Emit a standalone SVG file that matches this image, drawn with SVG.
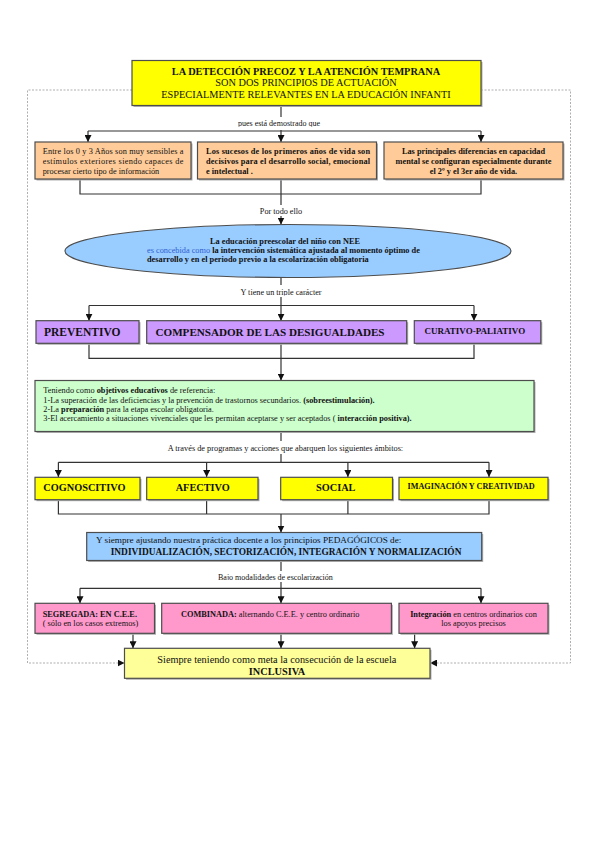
<svg xmlns="http://www.w3.org/2000/svg" width="599" height="848" viewBox="0 0 599 848">
<style>
text{font-family:"Liberation Serif","Times New Roman",serif;fill:#111}
.b{font-weight:bold}
.s83{font-size:8.3px}
.box{stroke:#4d4d4d;stroke-width:1.2}
.sh{fill:#b0b0b0}
.conn{fill:none;stroke:#333;stroke-width:1.2}
.frame{fill:none;stroke:#9a9a9a;stroke-width:0.8;stroke-dasharray:2 1.5}
.blue{fill:#2f5fd0}
</style>
<defs>
<marker id="ah" viewBox="0 0 10 10" refX="10" refY="5" markerWidth="7" markerHeight="7" markerUnits="userSpaceOnUse" orient="auto"><path d="M0,0 L10,5 L0,10 z" fill="#111"/></marker>
<clipPath id="c1"><rect x="200" y="110" width="160" height="16.8"/></clipPath>
<clipPath id="c2"><rect x="200" y="280" width="160" height="15.6"/></clipPath>
<clipPath id="c3"><rect x="200" y="565" width="160" height="15"/></clipPath>
</defs>
<rect width="599" height="848" fill="#fff"/>

<g id="frame">
<path class="frame" d="M132,90 H27.5 V663 H124.5" marker-end="url(#ah)"/>
<path class="frame" d="M481,90 H570.5 V663 H430" marker-end="url(#ah)"/>
</g>

<g id="connectors">
<path class="conn" d="M281,105.5 V117"/>
<path class="conn" d="M88,131 H481"/>
<path class="conn" d="M88,131 V142" marker-end="url(#ah)"/>
<path class="conn" d="M281,130 V142" marker-end="url(#ah)"/>
<path class="conn" d="M481,131 V142" marker-end="url(#ah)"/>
<path class="conn" d="M80,179 V194 H481 V179"/>
<path class="conn" d="M281,179 V205"/>
<path class="conn" d="M281,216 V224.5" marker-end="url(#ah)"/>
<path class="conn" d="M281,277.5 V285"/>
<path class="conn" d="M281,297 V320.7" marker-end="url(#ah)"/>
<path class="conn" d="M89,305.5 H474"/>
<path class="conn" d="M89,305.5 V320.7" marker-end="url(#ah)"/>
<path class="conn" d="M474,305.5 V320.7" marker-end="url(#ah)"/>
<path class="conn" d="M89,343.3 V358.3 H474 V343.3"/>
<path class="conn" d="M281,343.3 V380.5" marker-end="url(#ah)"/>
<path class="conn" d="M281,431.5 V441"/>
<path class="conn" d="M281,454 V462.3"/>
<path class="conn" d="M58.4,462.3 H489"/>
<path class="conn" d="M58.4,462.3 V477" marker-end="url(#ah)"/>
<path class="conn" d="M206.6,462.3 V477" marker-end="url(#ah)"/>
<path class="conn" d="M347.9,462.3 V477" marker-end="url(#ah)"/>
<path class="conn" d="M489,462.3 V477" marker-end="url(#ah)"/>
<path class="conn" d="M58.4,499.7 V514 H489 V499.7"/>
<path class="conn" d="M206.6,499.7 V514"/>
<path class="conn" d="M347.9,499.7 V514"/>
<path class="conn" d="M281,514 V532.5" marker-end="url(#ah)"/>
<path class="conn" d="M281,561 V571"/>
<path class="conn" d="M281,582 V588.3"/>
<path class="conn" d="M80,588.3 H481"/>
<path class="conn" d="M80,588.3 V603.3" marker-end="url(#ah)"/>
<path class="conn" d="M281,588.3 V603.3" marker-end="url(#ah)"/>
<path class="conn" d="M481,588.3 V603.3" marker-end="url(#ah)"/>
<path class="conn" d="M133,633.3 V648.3" marker-end="url(#ah)"/>
<path class="conn" d="M281,633.3 V648.3" marker-end="url(#ah)"/>
<path class="conn" d="M414.6,633.3 V648.3" marker-end="url(#ah)"/>
</g>

<g id="edge-labels">
<text x="279" y="126.3" font-size="8" text-anchor="middle" clip-path="url(#c1)">pues está demostrado que</text>
<text x="281" y="213.5" font-size="8.2" text-anchor="middle">Por  todo ello</text>
<text x="281" y="295" font-size="8.2" text-anchor="middle" clip-path="url(#c2)">Y tiene un triple carácter</text>
<text x="167.7" y="450.6" class="s83">A través de programas y acciones que abarquen los siguientes ámbitos:</text>
<text x="218" y="579.6" font-size="8" clip-path="url(#c3)">Bajo modalidades de escolarización</text>
</g>

<g id="title">
<rect class="sh" x="133.5" y="62" width="349" height="45"/>
<rect class="box" x="132" y="60.5" width="349" height="45" fill="#ffff00"/>
<text x="306" y="74.5" font-size="10.3" class="b" text-anchor="middle">LA DETECCIÓN PRECOZ Y LA ATENCIÓN TEMPRANA</text>
<text x="306" y="86" font-size="10.3" text-anchor="middle">SON DOS PRINCIPIOS DE ACTUACIÓN</text>
<text x="306" y="97.5" font-size="10.3" text-anchor="middle">ESPECIALMENTE RELEVANTES EN LA EDUCACIÓN INFANTI</text>
</g>

<g id="orange-1">
<rect class="sh" x="36.5" y="143.5" width="156" height="37"/>
<rect class="box" x="35" y="142" width="156" height="37" fill="#ffcc99"/>
<text x="42.7" y="153.8" class="s83" textLength="140.8" lengthAdjust="spacing">Entre los 0 y 3 Años  son muy sensibles a</text>
<text x="42.7" y="163.8" class="s83" textLength="140.8" lengthAdjust="spacing">estímulos exteriores siendo capaces de</text>
<text x="42.7" y="173.8" class="s83">procesar cierto tipo de información</text>
</g>

<g id="orange-2">
<rect class="sh" x="199" y="143.5" width="179" height="37"/>
<rect class="box" x="197.5" y="142" width="179" height="37" fill="#ffcc99"/>
<text x="206" y="153.8" class="s83 b" textLength="164" lengthAdjust="spacing">Los sucesos de los primeros años de vida son</text>
<text x="206" y="163.8" class="s83 b" textLength="164" lengthAdjust="spacing">decisivos para el desarrollo social, emocional</text>
<text x="206" y="173.8" class="s83 b">e intelectual .</text>
</g>

<g id="orange-3">
<rect class="sh" x="385.5" y="143.5" width="179" height="37"/>
<rect class="box" x="384" y="142" width="179" height="37" fill="#ffcc99"/>
<text x="473.5" y="153.8" class="s83 b" text-anchor="middle">Las principales diferencias en capacidad</text>
<text x="473.5" y="163.8" class="s83 b" text-anchor="middle">mental se configuran especialmente durante</text>
<text x="473.5" y="173.8" class="s83 b" text-anchor="middle">el 2º y el 3er año de vida.</text>
</g>

<g id="ellipse">
<ellipse cx="288" cy="251" rx="223" ry="26.5" fill="#99ccff" stroke="#4d4d4d" stroke-width="1.2"/>
<text x="285" y="243.5" class="s83 b" text-anchor="middle">La educación preescolar del niño con NEE</text>
<text x="147" y="252.8" class="s83"><tspan class="blue">es concebida como </tspan><tspan class="b">la intervención sistemática ajustada al momento óptimo de</tspan></text>
<text x="147" y="262" class="s83 b">desarrollo y en el periodo previo a la escolarización obligatoria</text>
</g>

<g id="preventivo">
<rect class="sh" x="37.5" y="322.2" width="103" height="22.6"/>
<rect class="box" x="36" y="320.7" width="103" height="22.6" fill="#cc99ff"/>
<text x="44" y="336" font-size="11.5" class="b">PREVENTIVO</text>
</g>
<g id="compensador">
<rect class="sh" x="148.2" y="322.2" width="260" height="22.6"/>
<rect class="box" x="146.7" y="320.7" width="260" height="22.6" fill="#cc99ff"/>
<text x="155.5" y="336" font-size="11.1" class="b">COMPENSADOR DE LAS DESIGUALDADES</text>
</g>
<g id="curativo">
<rect class="sh" x="415.8" y="322.2" width="126.5" height="22.6"/>
<rect class="box" x="414.3" y="320.7" width="126.5" height="22.6" fill="#cc99ff"/>
<text x="424.5" y="334" font-size="9" class="b">CURATIVO-PALIATIVO</text>
</g>

<g id="objetivos">
<rect class="sh" x="36.5" y="382" width="499" height="51"/>
<rect class="box" x="35" y="380.5" width="499" height="51" fill="#ccffcc"/>
<text x="43.3" y="393.3" class="s83">Teniendo como <tspan class="b">objetivos educativos</tspan> de referencia:</text>
<text x="43.3" y="402.6" class="s83">1-La superación de las deficiencias y la prevención de trastornos secundarios. <tspan class="b">(sobreestimulación).</tspan></text>
<text x="43.3" y="411.9" class="s83">2-La <tspan class="b">preparación</tspan> para la etapa escolar obligatoria.</text>
<text x="43.3" y="421.2" class="s83">3-El acercamiento a situaciones vivenciales que les permitan aceptarse y ser aceptados ( <tspan class="b">interacción positiva).</tspan></text>
</g>

<g id="cognoscitivo">
<rect class="sh" x="36.5" y="478.8" width="105" height="22.4"/>
<rect class="box" x="35" y="477.3" width="105" height="22.4" fill="#ffff00"/>
<text x="43.3" y="491" font-size="10.3" class="b">COGNOSCITIVO</text>
</g>
<g id="afectivo">
<rect class="sh" x="148.2" y="478.8" width="111.3" height="22.4"/>
<rect class="box" x="146.7" y="477.3" width="111.3" height="22.4" fill="#ffff00"/>
<text x="175.7" y="491" font-size="10.3" class="b">AFECTIVO</text>
</g>
<g id="social">
<rect class="sh" x="282.2" y="478.8" width="111.8" height="22.4"/>
<rect class="box" x="280.7" y="477.3" width="111.8" height="22.4" fill="#ffff00"/>
<text x="316" y="491" font-size="10.3" class="b">SOCIAL</text>
</g>
<g id="imaginacion">
<rect class="sh" x="400.5" y="478.8" width="149" height="22.4"/>
<rect class="box" x="399" y="477.3" width="149" height="22.4" fill="#ffff00"/>
<text x="407.5" y="489" font-size="8.2" class="b">IMAGINACIÓN Y CREATIVIDAD</text>
</g>

<g id="principios">
<rect class="sh" x="88.2" y="534" width="395" height="28"/>
<rect class="box" x="86.7" y="532.5" width="395" height="28" fill="#99ccff"/>
<text x="96" y="543.3" font-size="9.2">Y siempre ajustando nuestra práctica docente a los principios PEDAGÓGICOS de:</text>
<text x="110.7" y="554.6" font-size="9.4" class="b">INDIVIDUALIZACIÓN, SECTORIZACIÓN, INTEGRACIÓN Y NORMALIZACIÓN</text>
</g>

<g id="segregada">
<rect class="sh" x="36.5" y="604.8" width="119.5" height="30"/>
<rect class="box" x="35" y="603.3" width="119.5" height="30" fill="#ff99cc"/>
<text x="42.7" y="616.8" class="s83 b">SEGREGADA: EN C.E.E.</text>
<text x="42.7" y="625.8" class="s83">( sólo en los casos extremos)</text>
</g>
<g id="combinada">
<rect class="sh" x="163.2" y="604.8" width="229.7" height="30"/>
<rect class="box" x="161.7" y="603.3" width="229.7" height="30" fill="#ff99cc"/>
<text x="181" y="616.8" class="s83"><tspan class="b">COMBINADA:</tspan> alternando C.E.E. y centro ordinario</text>
</g>
<g id="integracion">
<rect class="sh" x="400.5" y="604.8" width="149" height="30"/>
<rect class="box" x="399" y="603.3" width="149" height="30" fill="#ff99cc"/>
<text x="473.5" y="616.8" class="s83" text-anchor="middle"><tspan class="b">Integración</tspan> en centros ordinarios con</text>
<text x="473.5" y="625.8" class="s83" text-anchor="middle">los apoyos precisos</text>
</g>

<g id="inclusiva">
<rect class="sh" x="126" y="649.8" width="305.5" height="30"/>
<rect class="box" x="124.5" y="648.3" width="305.5" height="30" fill="#ffff99"/>
<text x="157.3" y="662.6" font-size="10.3">Siempre teniendo como meta la consecución de la escuela</text>
<text x="277" y="674.5" font-size="10.3" class="b" text-anchor="middle">INCLUSIVA</text>
</g>
</svg>
